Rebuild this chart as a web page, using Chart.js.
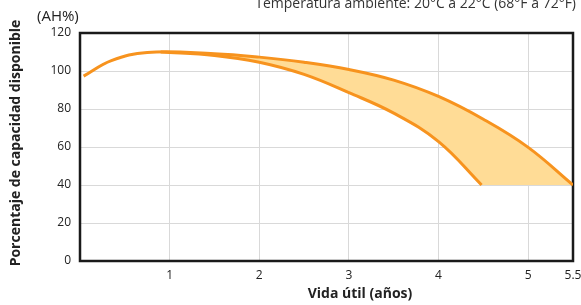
<!DOCTYPE html>
<html>
<head>
<meta charset="utf-8">
<script src="https://cdn.jsdelivr.net/npm/chart.js@4"></script>
<style>
  html, body { margin: 0; padding: 0; background: #fff; }
  #wrap { width: 581px; height: 305px; }
</style>
</head>
<body>
<div id="wrap"><canvas id="lifeChart"></canvas></div>
<script>
// Upper edge of the band (best case)
const upperYears = [0.04, 0.35, 0.75, 1.5, 2, 2.5, 3, 3.5, 4, 4.5, 5, 5.5];
const upperValues = [97.3, 105.5, 109.8, 109.1, 107.3, 104.6, 100.8, 95.2, 86.6, 74.6, 59.8, 40];

// Lower edge of the band (worst case)
const lowerYears = [0.9, 1.5, 2, 2.5, 3, 3.5, 4, 4.48];
const lowerValues = [110, 108.2, 104.6, 98.2, 88.6, 77.8, 62.8, 40];

// band closes along the 40% line up to 5.5 years
const floorYears = [4.48, 5.5];
const floorValues = [40, 40];

const xTicks = [1, 2, 3, 4, 5, 5.5];
const yTicks = [0, 20, 40, 60, 80, 100, 120];

const titleText = 'Temperatura ambiente: 20°C a 22°C (68°F a 72°F)';
const unitText = '(AH%)';
const xTitle = 'Vida útil (años)';
const yTitle = 'Porcentaje de capacidad disponible';

const lineColor = '#F7931E';
const bandColor = '#FFDC96';
const font = "'Open Sans', sans-serif";

function toPoints(xs, ys) {
  return xs.map((x, i) => ({ x: x, y: ys[i] }));
}

const bandPoints = toPoints(lowerYears, lowerValues).concat(toPoints(floorYears, floorValues));

const frameAndText = {
  id: 'frameAndText',
  beforeDatasetsDraw(chart) {
    const { ctx, chartArea } = chart;
    ctx.save();
    ctx.strokeStyle = '#1a1a1a';
    ctx.lineWidth = 2.5;
    ctx.strokeRect(chartArea.left, chartArea.top, chartArea.right - chartArea.left, chartArea.bottom - chartArea.top);
    ctx.restore();
  },
  afterDraw(chart) {
    const ctx = chart.ctx;
    ctx.save();
    ctx.fillStyle = '#333';
    ctx.font = '14px ' + font;
    ctx.textAlign = 'right';
    ctx.textBaseline = 'alphabetic';
    ctx.fillText(titleText, 576, 8);

    ctx.fillStyle = '#222';
    ctx.font = '15px ' + font;
    ctx.textAlign = 'left';
    ctx.fillText(unitText, 37, 21);

    ctx.font = 'bold 14px ' + font;
    ctx.textAlign = 'center';
    ctx.textBaseline = 'middle';
    ctx.fillText(xTitle, 360, 294);

    ctx.translate(16, 143);
    ctx.rotate(-Math.PI / 2);
    ctx.fillText(yTitle, 0, 0);
    ctx.restore();
  }
};

const ctx = document.getElementById('lifeChart').getContext('2d');
new Chart(ctx, {
  type: 'line',
  data: {
    datasets: [{
      label: 'upper',
      data: toPoints(upperYears, upperValues),
      borderColor: lineColor,
      borderWidth: 3,
      pointRadius: 0,
      tension: 0.4,
      fill: false
    }, {
      label: 'lower',
      data: toPoints(lowerYears, lowerValues),
      borderColor: lineColor,
      borderWidth: 3,
      pointRadius: 0,
      tension: 0.4,
      fill: false
    }, {
      label: 'band',
      data: bandPoints,
      borderWidth: 0,
      borderColor: 'rgba(0,0,0,0)',
      backgroundColor: bandColor,
      pointRadius: 0,
      tension: 0.4,
      fill: 0
    }]
  },
  options: {
    responsive: true,
    maintainAspectRatio: false,
    animation: false,
    layout: {
      padding: { top: 33, right: 8, bottom: 0, left: 0 }
    },
    plugins: {
      legend: { display: false },
      tooltip: { enabled: false }
    },
    scales: {
      x: {
        type: 'linear',
        min: 0,
        max: 5.5,
        afterBuildTicks: (scale) => {
          scale.ticks = xTicks.map(v => ({ value: v }));
        },
        afterFit: (scale) => {
          scale.height = 44;
          scale.paddingLeft = 0;
          scale.paddingRight = 0;
        },
        grid: { color: '#d9d9d9', lineWidth: 1, drawTicks: false },
        border: { display: false },
        ticks: {
          padding: 7,
          maxRotation: 0,
          autoSkip: false,
          color: '#222',
          font: { family: font, size: 12 }
        }
      },
      y: {
        min: 0,
        max: 120,
        afterBuildTicks: (scale) => {
          scale.ticks = yTicks.map(v => ({ value: v }));
        },
        afterFit: (scale) => {
          scale.width = 80;
          scale.paddingTop = 0;
          scale.paddingBottom = 0;
        },
        grid: { color: '#d9d9d9', lineWidth: 1, drawTicks: false },
        border: { display: false },
        ticks: {
          padding: 9,
          color: '#222',
          font: { family: font, size: 12 }
        }
      }
    }
  },
  plugins: [frameAndText]
});
</script>
</body>
</html>
